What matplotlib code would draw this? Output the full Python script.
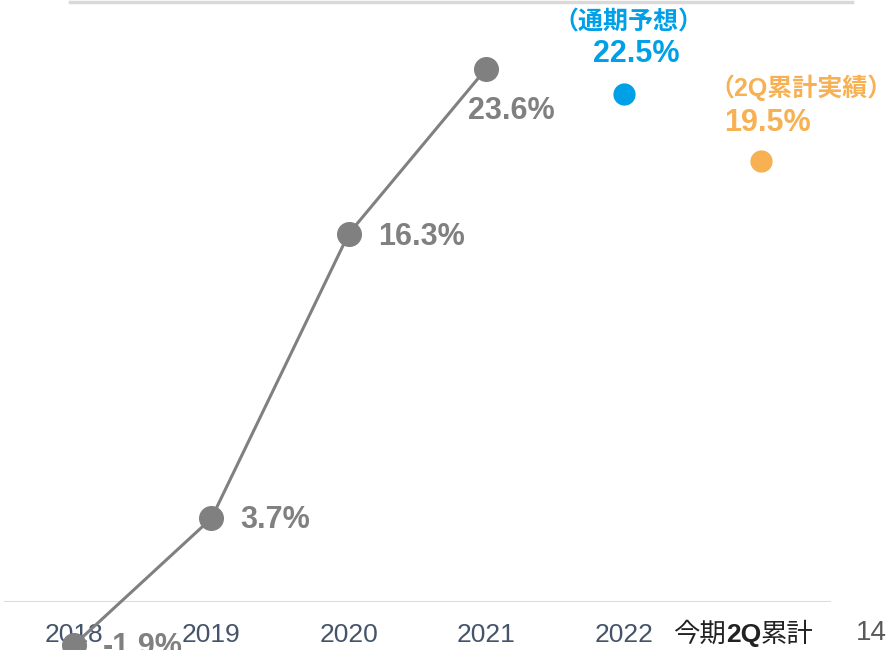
import matplotlib.pyplot as plt
from matplotlib.lines import Line2D

# データ
years = ['2018', '2019', '2020', '2021']
rates = [-1.9, 3.7, 16.3, 23.6]
forecast_label = '（通期予想）'
forecast_value = 22.5
actual_label = '（2Q累計実績）'
actual_value = 19.5
tick_labels = ['2018', '2019', '2020', '2021', '2022']
last_label = ['今期', '2Q', '累計']
page_no = '14'

gray = '#808080'
blue = '#00a0e9'
orange = '#f7b052'

plt.rcParams['font.family'] = ['Liberation Sans', 'Noto Sans CJK JP']

fig = plt.figure(figsize=(8.89, 6.5), dpi=100)
ax = fig.add_axes([0, 48 / 650, 1, 602 / 650])
ax.set_xlim(-0.5386, 5.9316)
ax.set_ylim(0, 26.64)
for s in ax.spines.values():
    s.set_visible(False)
ax.set_yticks([])

xs = list(range(len(years)))
ax.plot(xs, rates, color=gray, lw=2.2, marker='o', ms=17, clip_on=False, zorder=3)
ax.plot([4], [forecast_value], 'o', color=blue, ms=15, clip_on=False, zorder=3)
ax.plot([5], [actual_value], 'o', color=orange, ms=15, clip_on=False, zorder=3)

ax.axhline(0, xmin=5 / 889, xmax=830 / 889, color='#d6dce5', lw=1.5, zorder=1)

# ラベル
lab_kw = dict(fontsize=22, fontweight='bold', textcoords='offset pixels',
              annotation_clip=False)
offsets = [(29, -2), (29, -2), (29, -3), (-18, -42)]
for x, v, (dx, dy) in zip(xs, rates, offsets):
    ax.annotate(f'{v}%', (x, v), xytext=(dx, dy), ha='left', va='center', color=gray, **lab_kw)

ax.annotate(f'{forecast_value}%', (4, forecast_value), xytext=(13, 40),
            ha='center', va='center', color=blue, **lab_kw)
ax.annotate(forecast_label, (4, forecast_value), xytext=(5, 71), ha='center',
            va='center', color=blue, fontsize=18, fontweight='bold',
            textcoords='offset pixels', annotation_clip=False)
ax.annotate(f'{actual_value}%', (5, actual_value), xytext=(-37, 38),
            ha='left', va='center', color=orange, **lab_kw)
ax.annotate(actual_label, (5, actual_value), xytext=(40, 74), ha='center',
            va='center', color=orange, fontsize=18, fontweight='bold',
            textcoords='offset pixels', annotation_clip=False)

ax.set_xticks(range(len(tick_labels)))
ax.set_xticklabels(tick_labels, fontsize=19, color='#44546a')
ax.tick_params(axis='x', length=0, pad=15)

# 今期2Q累計（2Qだけ太字）
t = ax.annotate(last_label[0], (5, 0), xytext=(-88, -33), textcoords='offset pixels',
                ha='left', va='center', fontsize=19, color='#222222',
                annotation_clip=False)
t = ax.annotate(last_label[1], (1, 0.5), xycoords=t, ha='left', va='center',
                fontsize=19, fontweight='bold', color='#222222', annotation_clip=False)
ax.annotate(last_label[2], (1, 0.5), xycoords=t, ha='left', va='center',
            fontsize=19, color='#222222', annotation_clip=False)

# 上の枠線とページ番号
fig.add_artist(Line2D([70 / 889, 852 / 889], [0.997, 0.997], color='#d9d9d9', lw=2.5))
fig.text(871 / 889, 1 - 633 / 650, page_no, ha='center', va='center',
         fontsize=20, color='#595959', fontweight='light')

fig.savefig('out.png', dpi=100)
